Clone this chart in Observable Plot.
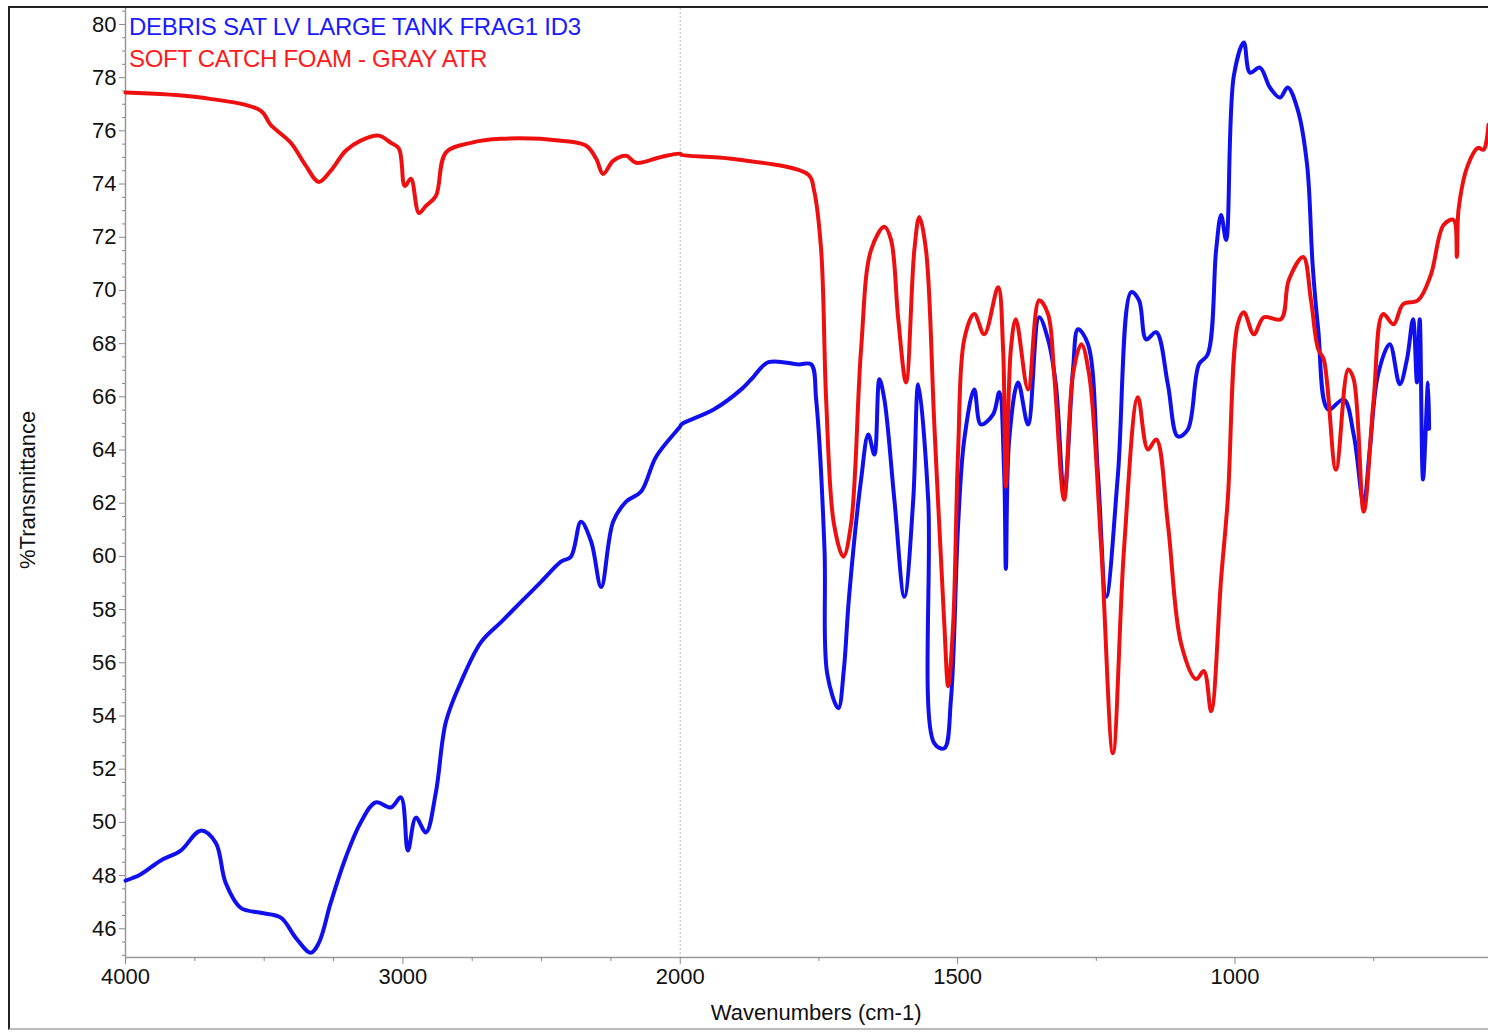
<!DOCTYPE html>
<html><head><meta charset="utf-8">
<script src="https://cdn.jsdelivr.net/npm/d3@7"></script>
<script src="https://cdn.jsdelivr.net/npm/@observablehq/plot@0.6"></script>
<style>
body{margin:0;background:#fff;font-family:"Liberation Sans",Arial,sans-serif;}
#wrap{position:relative;width:1488px;height:1032px;overflow:hidden;}
#border{position:absolute;left:8px;top:6px;width:1490px;height:1020px;border-left:2px solid #222;border-top:2px solid #222;border-bottom:2px solid #bbb;pointer-events:none;}
#wrap svg{position:absolute;left:0;top:0;}
.leg{position:absolute;left:129px;font-size:24px;white-space:nowrap;letter-spacing:-0.3px;}
</style></head><body>
<div id="wrap"><div id="border"></div>
<div class="leg" style="top:13px;color:#1a1aff">DEBRIS SAT LV LARGE TANK FRAG1 ID3</div>
<div class="leg" style="top:45px;color:#ff1a1a">SOFT CATCH FOAM - GRAY ATR</div>
</div>
<script>
const blueWn=[4000,3946,3874,3801,3729,3675,3639,3585,3513,3440,3386,3332,3303,3260,3206,3152,3098,3043,3007,2982,2953,2917,2881,2845,2791,2718,2646,2574,2502,2430,2394,2358,2321,2285,2242,2195,2141,2087,2000,
1998,1939,1890,1872,1841,1787,1764,1755,1740,1735,1715,1705,1696,1674,1661,1650,1641,1632,1614,1596,1580,1571,1553,1542,1524,1512,1499,1488,1470,1458,1436,1425,1416,1413,1407,1391,1373,1353,1337,1323,1308,1292,1283,1265,1247,1232,1211,1187,1173,1160,1142,1121,1103,1085,1065,1049,1034,1025,1016,1002,984,973,955,937,919,905,887,870,860,850,832,804,786,768,757,742,721,703,690,679,672,667,661,652,650];
const blueT=[47.81,48.04,48.56,48.94,49.69,49.24,47.73,46.79,46.60,46.42,45.66,45.10,45.47,46.98,48.68,50.00,50.75,50.56,50.94,48.94,50.18,49.62,51.13,53.77,55.27,56.78,57.53,58.29,59.04,59.80,59.99,61.30,60.55,58.85,61.30,62.06,62.44,63.75,64.89,
64.96,65.53,66.28,66.66,67.30,67.22,67.22,65.90,60.29,55.58,54.29,55.76,58.40,62.89,64.58,63.83,66.66,65.90,62.13,58.48,62.13,66.47,62.13,52.97,52.79,54.63,61.23,64.40,66.28,64.96,65.34,66.17,63.08,59.53,64.40,66.54,64.96,68.99,68.16,66.47,62.32,67.03,68.54,67.98,63.08,58.48,63.08,69.94,69.63,68.16,68.43,66.47,64.51,64.77,67.22,67.60,71.52,72.84,71.90,78.08,79.32,78.19,78.38,77.63,77.25,77.63,76.80,74.72,70.95,68.54,65.53,65.90,64.58,61.98,64.02,66.85,67.98,66.47,67.41,68.92,66.54,68.92,62.89,66.54,64.8];
const redWn=[4000,3729,3513,3477,3404,3350,3303,3260,3206,3152,3087,3043,3014,2993,2971,2942,2917,2881,2845,2755,2646,2430,2339,2303,2278,2242,2195,2159,2069,2000,
1998,1908,1769,1759,1746,1737,1723,1706,1692,1674,1656,1632,1620,1607,1593,1578,1569,1557,1542,1524,1517,1508,1499,1488,1470,1452,1427,1418,1413,1404,1395,1373,1353,1337,1326,1308,1292,1277,1263,1241,1220,1200,1175,1157,1142,1121,1097,1070,1056,1043,1025,1013,995,984,966,948,917,903,877,863,850,840,818,796,786,768,750,733,714,697,670,647,624,606,600,597,580,562,552,543];
const redT=[77.44,77.25,76.76,76.23,75.55,74.69,74.08,74.50,75.25,75.63,75.82,75.55,75.33,73.93,74.20,72.91,73.18,73.55,75.18,75.55,75.70,75.63,75.44,74.95,74.38,74.87,75.06,74.80,75.02,75.14,
75.10,74.95,74.35,73.78,71.52,65.90,61.23,59.99,61.23,67.79,71.52,72.39,71.90,68.92,66.54,71.52,72.76,71.52,64.96,57.46,55.12,57.46,64.02,68.16,69.11,68.35,70.12,67.79,62.62,67.79,68.92,66.28,69.63,69.11,66.85,62.13,66.85,67.98,66.85,60.29,52.60,60.29,65.98,64.02,64.40,61.23,56.71,55.39,55.69,54.18,59.16,62.13,68.73,69.18,68.35,68.99,68.92,70.39,71.26,69.63,67.79,67.41,63.26,67.03,66.66,61.68,65.90,69.11,68.73,69.48,69.63,70.58,72.46,72.65,71.26,73.03,74.72,75.36,75.29,76.23];
const xTicks=[4000,3000,2000,1500,1000];
const yTicks=d3.range(46,81,2);

// FTIR axis: 4000-2000 compressed 2x relative to 2000-lower
const u=wn=>wn>=2000?(4000-wn)/2:1000+(2000-wn);
const blue=blueWn.map((w,i)=>({u:u(w),t:blueT[i]}));
const red=redWn.map((w,i)=>({u:u(w),t:redT[i]}));
const xMinor=[...d3.range(3750,2000,-250),...d3.range(1750,500,-250)].filter(w=>!xTicks.includes(w)).map(u);
const yMinor=d3.range(45,80.6,0.5).filter(v=>v%2!==0);
const lbl=new Map(xTicks.map(w=>[u(w),String(w)]));

const plot=Plot.plot({
  width:1488,height:1032,marginLeft:125,marginRight:0,marginTop:8,marginBottom:75,
  style:{fontFamily:"Liberation Sans, Arial, sans-serif",fontSize:"22px",color:"#111",background:"transparent"},
  x:{domain:[0,u(543)],label:null},
  y:{domain:[44.92,80.6],label:null},
  marks:[
    Plot.ruleX([u(2000)],{stroke:"#bbb",strokeDasharray:"2,2",strokeWidth:1}),
    Plot.ruleX([0],{stroke:"#999",strokeWidth:1.5}),
    Plot.ruleY([44.92],{stroke:"#999",strokeWidth:1.5}),
    Plot.axisY({ticks:yMinor,tickSize:3,tickFormat:()=>"",stroke:"#888",label:null}),
    Plot.axisY({ticks:yTicks,tickSize:6,tickPadding:3,stroke:"#888",fontSize:22,label:null}),
    Plot.axisX({ticks:xMinor,tickSize:4,tickFormat:()=>"",stroke:"#888",label:null}),
    Plot.axisX({ticks:xTicks.map(u),tickSize:7,tickFormat:d=>lbl.get(d),stroke:"#888",fontSize:22,tickPadding:4,label:null}),
    Plot.text(["Wavenumbers (cm-1)"],{frameAnchor:"bottom",dy:62,fontSize:22,x:()=>1000+245,fill:"#111"}),
    Plot.text(["%Transmittance"],{x:0,y:62.5,rotate:-90,dx:-98,fontSize:22,fill:"#111"}),
    Plot.line(blue,{x:"u",y:"t",stroke:"#1010ee",strokeWidth:4,curve:"catmull-rom"}),
    Plot.line(red,{x:"u",y:"t",stroke:"#ee1010",strokeWidth:4,curve:"catmull-rom"})
  ]
});
document.getElementById("wrap").prepend(plot);
</script></body></html>
